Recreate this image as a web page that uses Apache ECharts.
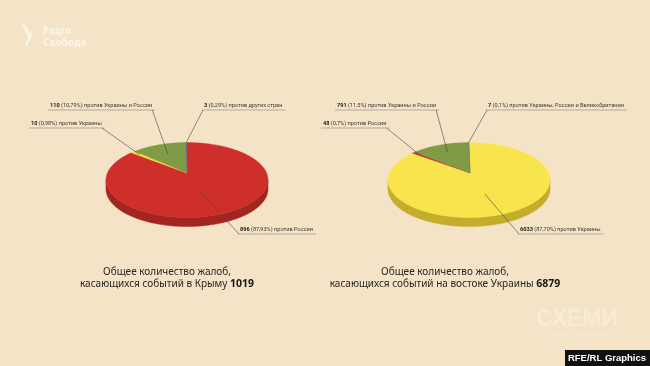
<!DOCTYPE html>
<html><head><meta charset="utf-8">
<script src="https://cdn.jsdelivr.net/npm/echarts@6/dist/echarts.min.js"></script>
<style>html,body{margin:0;padding:0;background:#f5e3c8;}#c{width:650px;height:366px;}</style>
</head><body><div id="c"></div>
<script>
// ---- DATA ----
const crimeaValues = [896, 10, 110, 3];
const crimeaPercents = ['87,93%', '0,98%', '10,79%', '0,29%'];
const crimeaNames = ['против России', 'против Украины', 'против Украины и России', 'против других стран'];
const crimeaTotal = 1019;
const crimeaTitle = ['Общее количество жалоб,', 'касающихся событий в Крыму'];

const eastValues = [6033, 48, 791, 7];
const eastPercents = ['87,70%', '0,7%', '11,5%', '0,1%'];
const eastNames = ['против Украины', 'против России', 'против Украины и России', 'против Украины, России и Великобритании'];
const eastTotal = 6879;
const eastTitle = ['Общее количество жалоб,', 'касающихся событий на востоке Украины'];

// ---- LAYOUT / STYLE ----
const LABEL_FONT = 'Roboto';
const LABEL_SIZE = 5.6;
const pies = [
  {
    values: crimeaValues, percents: crimeaPercents, names: crimeaNames, total: crimeaTotal, title: crimeaTitle,
    cx: 187, cy: 180, ax: 187, ay: 173, rx: 81, ry: 37.5, depth: 9,
    colors: ['#cf2f2a', '#f3d93c', '#809a45', '#6a7280'],
    walls: ['#a32520', '#c6ae2a', '#62772f', '#4e545c'],
    labels: [
      {x: 240, y: 230, side: 'r', f: 0.5},
      {x: 31, y: 124, side: 'l', f: 0.88},
      {x: 50, y: 106, side: 'l', f: 0.68},
      {x: 204, y: 106, side: 'r', f: 1.0}
    ],
    tx: 167, ty: 266
  },
  {
    values: eastValues, percents: eastPercents, names: eastNames, total: eastTotal, title: eastTitle,
    cx: 469, cy: 180, ax: 470, ay: 173, rx: 81, ry: 37.5, depth: 9,
    colors: ['#f8e54e', '#c9302a', '#809a45', '#6a7280'],
    walls: ['#c3ae2c', '#a02520', '#62772f', '#4e545c'],
    labels: [
      {x: 520, y: 230, side: 'r', f: 0.5},
      {x: 323, y: 124, side: 'l', f: 0.9},
      {x: 337, y: 106, side: 'l', f: 0.75},
      {x: 488, y: 106, side: 'r', f: 1.0}
    ],
    tx: 445, ty: 266
  }
];

const measureCtx = document.createElement('canvas').getContext('2d');
function textW(str, font) { measureCtx.font = font; return measureCtx.measureText(str).width; }

function ellPt(p, th, f) {
  const ex = p.cx + p.rx * Math.sin(th), ey = p.cy - p.ry * Math.cos(th);
  return [p.ax + f * (ex - p.ax), p.ay + f * (ey - p.ay)];
}
function angles(p, i) {
  const sum = p.values.reduce((a, b) => a + b, 0);
  let s = 0; for (let k = 0; k < i; k++) s += p.values[k];
  return [s / sum * Math.PI * 2, (s + p.values[i]) / sum * Math.PI * 2];
}

function shapeRender(p) {
  return function (params, api) {
    const i = params.dataIndex;
    const [a0, a1] = angles(p, i);
    const n = Math.max(2, Math.ceil((a1 - a0) / 0.02));
    const top = [[p.ax, p.ay]];
    for (let k = 0; k <= n; k++) top.push(ellPt(p, a0 + (a1 - a0) * k / n, 1));
    const children = [];
    const w0 = Math.max(a0, Math.PI / 2), w1 = Math.min(a1, Math.PI * 1.5);
    if (w1 > w0) {
      const m = Math.max(2, Math.ceil((w1 - w0) / 0.02));
      const up = [], dn = [];
      for (let k = 0; k <= m; k++) {
        const q = ellPt(p, w0 + (w1 - w0) * k / m, 1);
        up.push(q); dn.unshift([q[0], q[1] + p.depth]);
      }
      children.push({type: 'polygon', shape: {points: up.concat(dn)}, style: {fill: p.walls[i], stroke: p.walls[i], lineWidth: 0.5}});
    }
    children.push({type: 'polygon', shape: {points: top}, style: {fill: p.colors[i], stroke: p.colors[i], lineWidth: 0.4}});
    return {type: 'group', children: children};
  };
}

function labelRender(p) {
  return function (params, api) {
    const i = params.dataIndex;
    const v = api.value(0);
    const L = p.labels[i];
    const [a0, a1] = angles(p, i);
    const anchor = ellPt(p, (a0 + a1) / 2, L.f);
    const numStr = String(v) + ' ';
    const pctStr = '(' + p.percents[i] + ') ';
    const nameStr = p.names[i];
    const fb = 'bold ' + LABEL_SIZE + 'px ' + LABEL_FONT;
    const fn = LABEL_SIZE + 'px ' + LABEL_FONT;
    const w = textW(numStr, fb) + textW(pctStr, fn) + textW(nameStr, fn);
    const uy = L.y + 4;
    const ux0 = L.x - 2, ux1 = L.x + w + 3;
    const start = L.side === 'l' ? [ux1 - 3, uy] : [ux0 + 1, uy];
    return {
      type: 'group',
      children: [
        {type: 'line', shape: {x1: ux0, y1: uy, x2: ux1, y2: uy}, style: {stroke: '#9a9288', lineWidth: 0.7}},
        {type: 'line', shape: {x1: start[0], y1: start[1], x2: anchor[0], y2: anchor[1]}, style: {stroke: '#4a4440', lineWidth: 0.6}},
        {type: 'text', x: L.x, y: L.y, style: {
          text: '{b|' + numStr + '}{n|' + pctStr + nameStr + '}',
          verticalAlign: 'middle', align: 'left',
          rich: {
            b: {fontFamily: LABEL_FONT, fontSize: LABEL_SIZE, fontWeight: 'bold', fill: '#1a1a1a', color: '#1a1a1a'},
            n: {fontFamily: LABEL_FONT, fontSize: LABEL_SIZE, fill: '#3c3835', color: '#3c3835'}
          }
        }}
      ]
    };
  };
}

const series = [];
pies.forEach((p) => {
  const data = p.values.map(v => [v]);
  series.push({type: 'custom', coordinateSystem: 'none', data: data, renderItem: shapeRender(p), z: 2, silent: true, animation: false});
  series.push({type: 'custom', coordinateSystem: 'none', data: data, renderItem: labelRender(p), z: 5, silent: true, animation: false});
});

const graphics = [];
pies.forEach(p => {
  graphics.push({
    type: 'text', x: p.tx, y: p.ty,
    style: {
      text: p.title[0] + '\n' + p.title[1] + ' {b|' + p.total + '}',
      align: 'center', verticalAlign: 'top',
      font: '10px "Noto Sans"', fill: '#2a2522', lineHeight: 12,
      rich: {b: {fontFamily: 'Noto Sans', fontSize: 10.5, fontWeight: 'bold', fill: '#1a1715', lineHeight: 12}}
    },
    z: 10
  });
});
// Logo top-left
graphics.push({
  type: 'group', x: 0, y: 0, z: 10,
  children: [
    {type: 'polygon', shape: {points: [[21,22],[27,27],[30,33],[35,26],[38,19],[33,29],[31,38],[27,47],[25,44],[28,37],[24,30]]},
      style: {fill: 'rgba(255,255,255,0.55)'}},
    {type: 'text', x: 43, y: 31, style: {text: 'Радіо', font: 'bold 10px "Noto Sans"', fill: 'rgba(255,255,255,0.6)', verticalAlign: 'middle'}},
    {type: 'text', x: 43, y: 43, style: {text: 'Свобода', font: 'bold 10px "Noto Sans"', fill: 'rgba(255,255,255,0.6)', verticalAlign: 'middle'}}
  ]
});
// СХЕМИ watermark
graphics.push({type: 'text', x: 577, y: 320, z: 10, style: {text: 'СХЕМИ', font: 'bold 23px "Liberation Sans"', fill: 'rgba(255,255,255,0.25)', align: 'center', verticalAlign: 'middle'}});
graphics.push({type: 'text', x: 577, y: 335, z: 10, style: {text: 'корупція в деталях', font: '7px "Liberation Sans"', fill: 'rgba(255,255,255,0.25)', align: 'center', verticalAlign: 'middle'}});
// RFE/RL Graphics box
graphics.push({type: 'rect', z: 10, shape: {x: 565, y: 350, width: 85, height: 16}, style: {fill: '#111111'}});
graphics.push({type: 'text', z: 11, x: 607, y: 358, style: {text: 'RFE/RL Graphics', font: 'bold 9.5px "Liberation Sans"', fill: '#ffffff', align: 'center', verticalAlign: 'middle'}});

const chart = echarts.init(document.getElementById('c'), null, {renderer: 'canvas'});
chart.setOption({
  backgroundColor: '#f5e3c8',
  animation: false,
  series: series,
  graphic: graphics
});
</script>
</body></html>
